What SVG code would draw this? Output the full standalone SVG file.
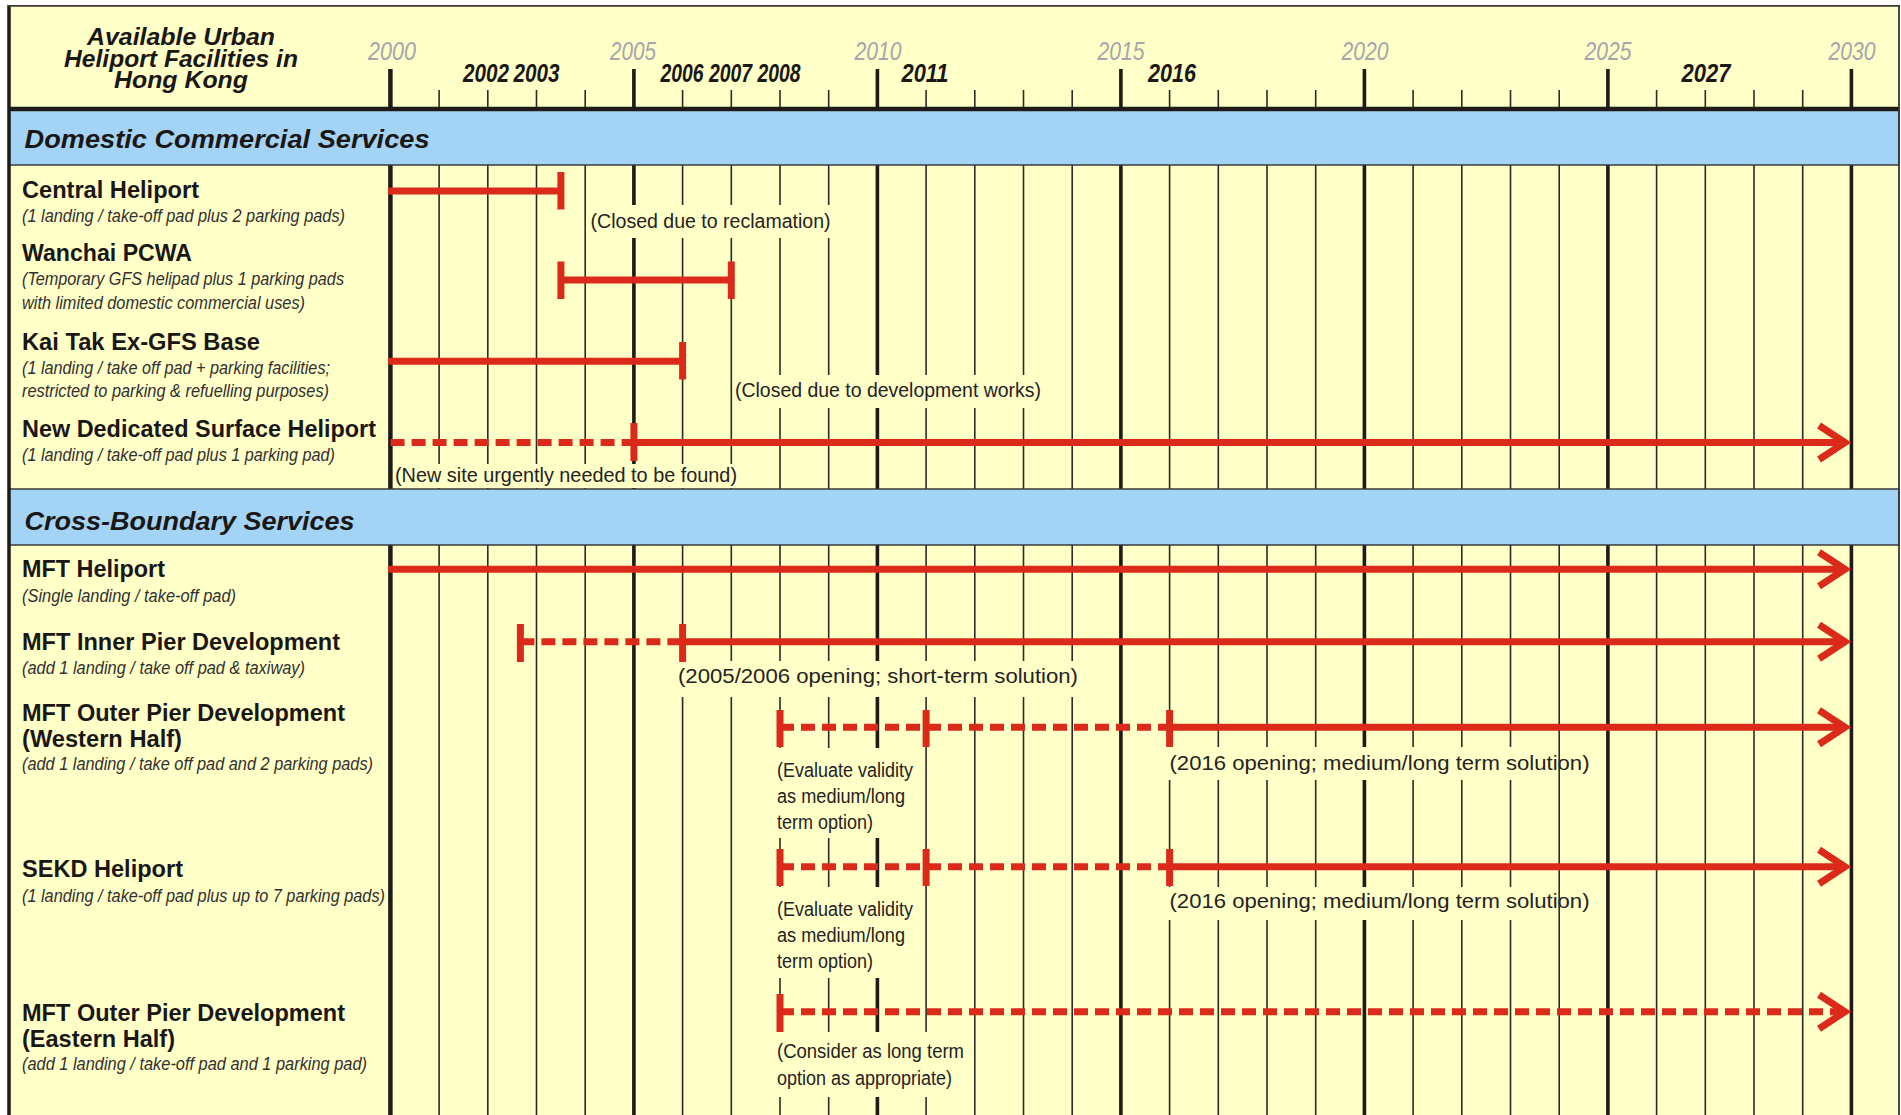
<svg xmlns="http://www.w3.org/2000/svg" width="1901" height="1115" viewBox="0 0 1901 1115">
<defs>
<style>
.bg{fill:#ffffc8}
.band{fill:#a3d4f5;stroke:#3a3a3a;stroke-width:1.5}
.minor{stroke:#2e2a27;stroke-width:1.6;fill:none}
.major{stroke:#1e1b19;stroke-width:3.6;fill:none}
.title{font-family:"Liberation Sans",Arial,sans-serif;font-style:italic;font-weight:bold;font-size:23px;fill:#1a1715}
.yg{font-family:"Liberation Sans",Arial,sans-serif;font-style:italic;font-size:25px;fill:#a5a5ad}
.yb{font-family:"Liberation Sans",Arial,sans-serif;font-style:italic;font-weight:bold;font-size:26px;fill:#1a1715}
.sec{font-family:"Liberation Sans",Arial,sans-serif;font-style:italic;font-weight:bold;font-size:26px;fill:#1a1715}
.name{font-family:"Liberation Sans",Arial,sans-serif;font-weight:bold;font-size:23.5px;fill:#1a1715}
.desc{font-family:"Liberation Sans",Arial,sans-serif;font-style:italic;font-size:19px;fill:#333030}
.note{font-family:"Liberation Sans",Arial,sans-serif;font-size:19.5px;fill:#25221f}
.bar{stroke:#dc2a1a;stroke-width:7;fill:none}
.dash{stroke:#dc2a1a;stroke-width:7;fill:none;stroke-dasharray:14 7}
.cap{stroke:#dc2a1a;stroke-width:7;fill:none}
.arrow{stroke:#dc2a1a;stroke-width:7;fill:none;stroke-linejoin:miter;stroke-miterlimit:10}
</style>
</defs>
<rect x="0" y="0" width="1901" height="1115" fill="#ffffff"/>
<rect class="bg" x="9" y="6" width="1890" height="1109"/>

<g id="grid">
<path class="minor" d="M439.1 90V1115M487.8 90V1115M536.5 90V1115M585.2 90V1115M682.6 90V1115M731.3 90V1115M780 90V1115M828.7 90V1115M926.1 90V1115M974.8 90V1115M1023.5 90V1115M1072.2 90V1115M1169.6 90V1115M1218.3 90V1115M1267 90V1115M1315.7 90V1115M1413.1 90V1115M1461.8 90V1115M1510.5 90V1115M1559.2 90V1115M1656.6 90V1115M1705.3 90V1115M1754 90V1115M1802.7 90V1115"/>
<path class="major" d="M633.9 69V1115M877.4 69V1115M1120.9 69V1115M1364.4 69V1115M1607.9 69V1115M1851.4 69V1115"/>
<path class="major" style="stroke-width:4.5" d="M390.4 69V1115"/>
</g>

<g id="bands">
<rect class="band" x="9" y="110" width="1890" height="55"/>
<rect class="band" x="9" y="489" width="1890" height="56"/>
<line x1="9" y1="109" x2="1899" y2="109" stroke="#1e1b19" stroke-width="4.5"/>
</g>

<g id="header">
<text class="title" x="181" y="45" text-anchor="middle" textLength="188" lengthAdjust="spacingAndGlyphs">Available Urban</text>
<text class="title" x="181" y="66.5" text-anchor="middle" textLength="234" lengthAdjust="spacingAndGlyphs">Heliport Facilities in</text>
<text class="title" x="181" y="88" text-anchor="middle" textLength="134" lengthAdjust="spacingAndGlyphs">Hong Kong</text>
<text class="yg" x="392" y="60" text-anchor="middle" textLength="48" lengthAdjust="spacingAndGlyphs">2000</text>
<text class="yg" x="633" y="60" text-anchor="middle" textLength="46" lengthAdjust="spacingAndGlyphs">2005</text>
<text class="yg" x="878" y="60" text-anchor="middle" textLength="47" lengthAdjust="spacingAndGlyphs">2010</text>
<text class="yg" x="1121" y="60" text-anchor="middle" textLength="47" lengthAdjust="spacingAndGlyphs">2015</text>
<text class="yg" x="1365" y="60" text-anchor="middle" textLength="47" lengthAdjust="spacingAndGlyphs">2020</text>
<text class="yg" x="1608" y="60" text-anchor="middle" textLength="47" lengthAdjust="spacingAndGlyphs">2025</text>
<text class="yg" x="1852" y="60" text-anchor="middle" textLength="47" lengthAdjust="spacingAndGlyphs">2030</text>
<text class="yb" x="486" y="82" text-anchor="middle" textLength="46" lengthAdjust="spacingAndGlyphs">2002</text>
<text class="yb" x="536.5" y="82" text-anchor="middle" textLength="46" lengthAdjust="spacingAndGlyphs">2003</text>
<text class="yb" x="682" y="82" text-anchor="middle" textLength="43" lengthAdjust="spacingAndGlyphs">2006</text>
<text class="yb" x="730.5" y="82" text-anchor="middle" textLength="43" lengthAdjust="spacingAndGlyphs">2007</text>
<text class="yb" x="779" y="82" text-anchor="middle" textLength="43" lengthAdjust="spacingAndGlyphs">2008</text>
<text class="yb" x="925" y="82" text-anchor="middle" textLength="47" lengthAdjust="spacingAndGlyphs">2011</text>
<text class="yb" x="1172" y="82" text-anchor="middle" textLength="48" lengthAdjust="spacingAndGlyphs">2016</text>
<text class="yb" x="1706" y="82" text-anchor="middle" textLength="49" lengthAdjust="spacingAndGlyphs">2027</text>
</g>

<g id="note-backgrounds" class="bg">
<rect x="587" y="205" width="248" height="33"/>
<rect x="733" y="375" width="312" height="33"/>
<rect x="393" y="464" width="347" height="24"/>
<rect x="676" y="661" width="404" height="36"/>
<rect x="774" y="748" width="141" height="90"/>
<rect x="1167" y="747" width="378" height="33"/>
<rect x="774" y="887" width="141" height="91"/>
<rect x="1167" y="887" width="378" height="33"/>
<rect x="774" y="1032" width="192" height="65"/>
</g>

<g id="sec-domestic">
<text class="sec" x="24.5" y="147.5" textLength="405" lengthAdjust="spacingAndGlyphs">Domestic Commercial Services</text>
</g>
<g id="sec-cross">
<text class="sec" x="24.5" y="530" textLength="330" lengthAdjust="spacingAndGlyphs">Cross-Boundary Services</text>
</g>

<g id="connectors">
<line class="bar" x1="388" y1="191" x2="560.9" y2="191"/>
<line class="cap" x1="560.9" y1="172" x2="560.9" y2="209.5"/>
<line class="bar" x1="560.9" y1="280" x2="731.3" y2="280"/>
<line class="cap" x1="560.9" y1="261.5" x2="560.9" y2="299"/>
<line class="cap" x1="731.3" y1="261.5" x2="731.3" y2="299"/>
<line class="bar" x1="388" y1="361.3" x2="682.6" y2="361.3"/>
<line class="cap" x1="682.6" y1="342" x2="682.6" y2="379.5"/>
<line class="dash" x1="390.6" y1="442.5" x2="633.9" y2="442.5"/>
<line class="cap" x1="633.9" y1="423" x2="633.9" y2="461"/>
<line class="bar" x1="633.9" y1="442.5" x2="1846" y2="442.5"/>
<path class="arrow" d="M1819 425.5L1845 442.5L1819 459.5"/>
<line class="bar" x1="388" y1="569.3" x2="1846" y2="569.3"/>
<path class="arrow" d="M1819 552.3L1845 569.3L1819 586.3"/>
<line class="dash" x1="520.4" y1="641.7" x2="682.6" y2="641.7"/>
<line class="cap" x1="520.4" y1="624" x2="520.4" y2="662"/>
<line class="cap" x1="682.6" y1="624" x2="682.6" y2="662"/>
<line class="bar" x1="682.6" y1="641.7" x2="1846" y2="641.7"/>
<path class="arrow" d="M1819 624.7L1845 641.7L1819 658.7"/>
<line class="dash" x1="780" y1="727.3" x2="1169.6" y2="727.3"/>
<line class="cap" x1="780" y1="710" x2="780" y2="747"/>
<line class="cap" x1="926.1" y1="710" x2="926.1" y2="747"/>
<line class="cap" x1="1169.6" y1="710" x2="1169.6" y2="747"/>
<line class="bar" x1="1169.6" y1="727.3" x2="1846" y2="727.3"/>
<path class="arrow" d="M1819 710.3L1845 727.3L1819 744.3"/>
<line class="dash" x1="780" y1="866.7" x2="1169.6" y2="866.7"/>
<line class="cap" x1="780" y1="849" x2="780" y2="886"/>
<line class="cap" x1="926.1" y1="849" x2="926.1" y2="886"/>
<line class="cap" x1="1169.6" y1="849" x2="1169.6" y2="886"/>
<line class="bar" x1="1169.6" y1="866.7" x2="1846" y2="866.7"/>
<path class="arrow" d="M1819 849.7L1845 866.7L1819 883.7"/>
<line class="dash" x1="780" y1="1011.7" x2="1846" y2="1011.7"/>
<line class="cap" x1="780" y1="994" x2="780" y2="1032"/>
<path class="arrow" d="M1819 994.7L1845 1011.7L1819 1028.7"/>
</g>

<g id="central-heliport">
<text class="name" x="22" y="197.5" textLength="177" lengthAdjust="spacingAndGlyphs">Central Heliport</text>
<text class="desc" x="22" y="221.5" textLength="323" lengthAdjust="spacingAndGlyphs">(1 landing / take-off pad plus 2 parking pads)</text>
<text class="note" x="590.6" y="228" textLength="240" lengthAdjust="spacingAndGlyphs">(Closed due to reclamation)</text>
</g>
<g id="wanchai-pcwa">
<text class="name" x="22" y="261" textLength="170" lengthAdjust="spacingAndGlyphs">Wanchai PCWA</text>
<text class="desc" x="22" y="284.5" textLength="322" lengthAdjust="spacingAndGlyphs">(Temporary GFS helipad plus 1 parking pads</text>
<text class="desc" x="22" y="308.5" textLength="283" lengthAdjust="spacingAndGlyphs">with limited domestic commercial uses)</text>
</g>
<g id="kai-tak">
<text class="name" x="22" y="350" textLength="238" lengthAdjust="spacingAndGlyphs">Kai Tak Ex-GFS Base</text>
<text class="desc" x="22" y="373.5" textLength="308" lengthAdjust="spacingAndGlyphs">(1 landing / take off pad + parking facilities;</text>
<text class="desc" x="22" y="396.5" textLength="307" lengthAdjust="spacingAndGlyphs">restricted to parking &amp; refuelling purposes)</text>
<text class="note" x="735" y="397.3" textLength="306" lengthAdjust="spacingAndGlyphs">(Closed due to development works)</text>
</g>
<g id="new-dedicated">
<text class="name" x="22" y="437" textLength="354" lengthAdjust="spacingAndGlyphs">New Dedicated Surface Heliport</text>
<text class="desc" x="22" y="461" textLength="313" lengthAdjust="spacingAndGlyphs">(1 landing / take-off pad plus 1 parking pad)</text>
<text class="note" x="395" y="481.7" textLength="342" lengthAdjust="spacingAndGlyphs">(New site urgently needed to be found)</text>
</g>
<g id="mft-heliport">
<text class="name" x="22" y="577" textLength="143" lengthAdjust="spacingAndGlyphs">MFT Heliport</text>
<text class="desc" x="22" y="601.5" textLength="214" lengthAdjust="spacingAndGlyphs">(Single landing / take-off pad)</text>
</g>
<g id="mft-inner-pier">
<text class="name" x="22" y="649.5" textLength="318" lengthAdjust="spacingAndGlyphs">MFT Inner Pier Development</text>
<text class="desc" x="22" y="673.5" textLength="283" lengthAdjust="spacingAndGlyphs">(add 1 landing / take off pad &amp; taxiway)</text>
<text class="note" x="678" y="683.3" textLength="400" lengthAdjust="spacingAndGlyphs">(2005/2006 opening; short-term solution)</text>
</g>
<g id="mft-outer-west">
<text class="name" x="22" y="721" textLength="323" lengthAdjust="spacingAndGlyphs">MFT Outer Pier Development</text>
<text class="name" x="22" y="746.5" textLength="160" lengthAdjust="spacingAndGlyphs">(Western Half)</text>
<text class="desc" x="22" y="770" textLength="351" lengthAdjust="spacingAndGlyphs">(add 1 landing / take off pad and 2 parking pads)</text>
<text class="note" x="777" y="777" textLength="136" lengthAdjust="spacingAndGlyphs">(Evaluate validity</text>
<text class="note" x="777" y="803" textLength="128" lengthAdjust="spacingAndGlyphs">as medium/long</text>
<text class="note" x="777" y="829" textLength="96" lengthAdjust="spacingAndGlyphs">term option)</text>
<text class="note" x="1169.5" y="770" textLength="420" lengthAdjust="spacingAndGlyphs">(2016 opening; medium/long term solution)</text>
</g>
<g id="sekd-heliport">
<text class="name" x="22" y="877" textLength="161" lengthAdjust="spacingAndGlyphs">SEKD Heliport</text>
<text class="desc" x="22" y="901.5" textLength="363" lengthAdjust="spacingAndGlyphs">(1 landing / take-off pad plus up to 7 parking pads)</text>
<text class="note" x="777" y="916" textLength="136" lengthAdjust="spacingAndGlyphs">(Evaluate validity</text>
<text class="note" x="777" y="942" textLength="128" lengthAdjust="spacingAndGlyphs">as medium/long</text>
<text class="note" x="777" y="968" textLength="96" lengthAdjust="spacingAndGlyphs">term option)</text>
<text class="note" x="1169.5" y="908.3" textLength="420" lengthAdjust="spacingAndGlyphs">(2016 opening; medium/long term solution)</text>
</g>
<g id="mft-outer-east">
<text class="name" x="22" y="1021" textLength="323" lengthAdjust="spacingAndGlyphs">MFT Outer Pier Development</text>
<text class="name" x="22" y="1046.5" textLength="153" lengthAdjust="spacingAndGlyphs">(Eastern Half)</text>
<text class="desc" x="22" y="1070" textLength="345" lengthAdjust="spacingAndGlyphs">(add 1 landing / take-off pad and 1 parking pad)</text>
<text class="note" x="777" y="1058.3" textLength="187" lengthAdjust="spacingAndGlyphs">(Consider as long term</text>
<text class="note" x="777" y="1085" textLength="175" lengthAdjust="spacingAndGlyphs">option as appropriate)</text>
</g>

<g id="frame" fill="none">
<line x1="9" y1="5" x2="9" y2="1115" stroke="#1e1b19" stroke-width="3.5"/>
<line x1="8" y1="5.8" x2="1900" y2="5.8" stroke="#3a3735" stroke-width="1.8"/>
<line x1="1899" y1="5" x2="1899" y2="1115" stroke="#3a3735" stroke-width="1.8"/>
</g>
</svg>
